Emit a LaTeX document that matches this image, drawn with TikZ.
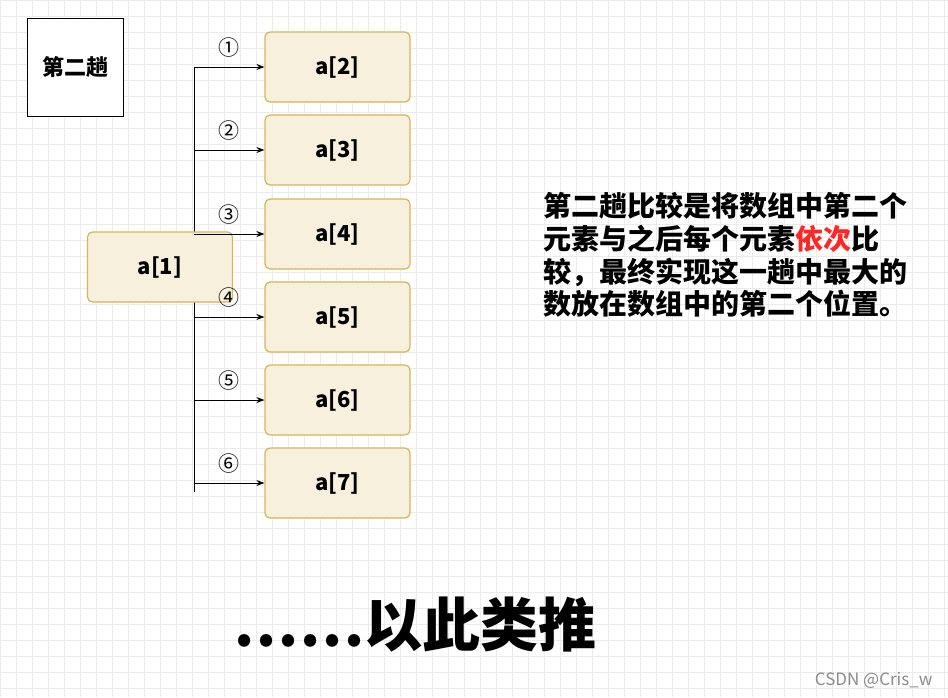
\documentclass[tikz,border=0pt]{standalone}
\usepackage{fontspec}
\setmainfont{Noto Sans CJK SC}[BoldFont={* Black}]
\usetikzlibrary{arrows.meta}
\definecolor{boxfill}{HTML}{F7F0DC}
\definecolor{boxline}{HTML}{D6B656}
\begin{document}
\begin{tikzpicture}[x=1pt,y=-1pt,
  item/.style={draw=boxline,fill=boxfill,line width=1.2pt,rounded corners=5pt,minimum width=145pt,minimum height=70pt,font=\bfseries\fontsize{22}{22}\selectfont,inner sep=0pt},
  arr/.style={-{Stealth[length=8pt,width=6pt]},line width=0.8pt},
  num/.style={font=\fontsize{21}{21}\selectfont}]
\fill[white] (0,0) rectangle (948,697);
\useasboundingbox (0,0) rectangle (948,697);
\draw[black!8,step=16pt] (0,0) grid (948,697);
\node[draw,line width=0.8pt,fill=white,minimum width=96pt,minimum height=98pt,font=\bfseries\fontsize{22}{22}\selectfont] (t) at (75,67) {第二趟};
\draw[line width=0.8pt] (194,67) -- (194,492);
\node[item] (a1) at (160,267) {a[1]};
\foreach \i/\y/\c in {2/67/①,3/150/②,4/234/③,5/317/④,6/400/⑤,7/483/⑥}{
  \node[item] (b\i) at (337.5,\y) {a[\i]};
  \coordinate (s\i) at (194,\y);
  \draw[arr] (s\i) -- (b\i.west);
  \node[num] (n\i) at (229,\y-19) {\c};
}
\node[anchor=north west,align=left,inner sep=0pt,font=\bfseries\fontsize{28}{32.8}\selectfont] (d) at (543,192) {第二趟比较是将数组中第二个\\元素与之后每个元素{\color{red!85!white}依次}比\\较，最终实现这一趟中最大的\\数放在数组中的第二个位置。};
\node[font=\bfseries\fontsize{58}{58}\selectfont] (e) at (415,625) {……以此类推};
\node[anchor=south east,text=black!45,font=\fontsize{17}{17}\selectfont] (w) at (936,692) {CSDN @Cris\_w};
\end{tikzpicture}
\end{document}
